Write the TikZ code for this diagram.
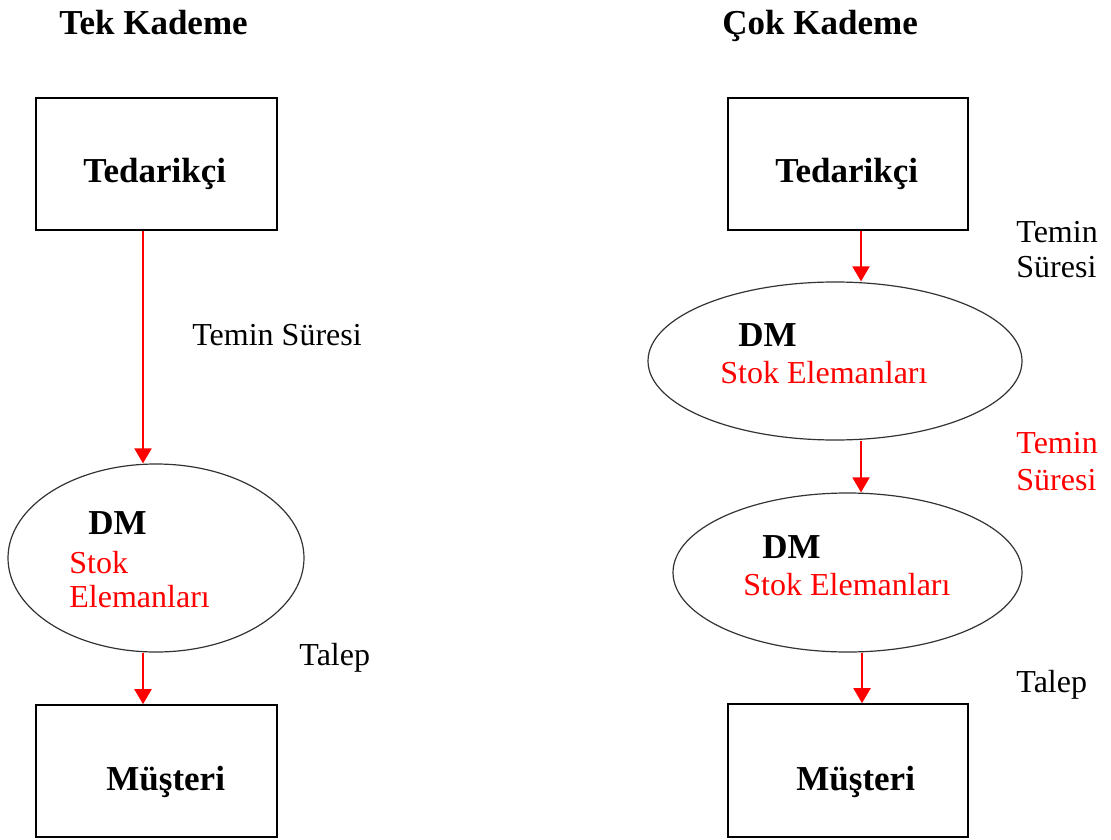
\documentclass[tikz,border=0pt]{standalone}
\usepackage{fontspec}
\setmainfont{Liberation Serif}
\usetikzlibrary{arrows.meta,shapes.geometric}
\begin{document}
\begin{tikzpicture}[x=0.5pt,y=-0.5pt,
  boxnode/.style={draw=black,line width=0.8pt,rectangle,inner sep=0pt},
  stocknode/.style={draw=black!80,line width=0.6pt,ellipse,inner sep=0pt},
  title/.style={anchor=base west,inner sep=0pt,font=\fontsize{17.5pt}{21pt}\selectfont\bfseries},
  bigname/.style={anchor=base west,inner sep=0pt,font=\fontsize{17.5pt}{21pt}\selectfont\bfseries},
  plain/.style={anchor=base west,inner sep=0pt,font=\fontsize{16pt}{19pt}\selectfont},
  redtext/.style={plain,text=red},
  flow/.style={draw=red,line width=1pt,-{Triangle[width=8.5pt,length=7.5pt]}}]
\useasboundingbox (0,0) rectangle (1111,839);

% ---- single echelon ----
\node[title] (t1) at (59,35) {Tek Kademe};
\node[boxnode,minimum width=241*0.5pt,minimum height=132*0.5pt] (sup1) at (156.5,164) {};
\node[bigname] (sup1t) at (83,183) {Tedarikçi};
\node[stocknode,minimum width=296*0.5pt,minimum height=188*0.5pt] (dm1) at (156,558) {};
\node[bigname] (dm1t) at (88,534) {DM};
\node[redtext] (dm1a) at (69,573) {Stok};
\node[redtext] (dm1b) at (69,607) {Elemanları};
\node[boxnode,minimum width=241*0.5pt,minimum height=132*0.5pt] (cus1) at (156.5,771) {};
\node[bigname] (cus1t) at (106,790) {Müşteri};
\node[plain] (lt1) at (192,345) {Temin Süresi};
\node[plain] (dem1) at (299,665) {Talep};
\draw[flow] (sup1.south -| 143,0) -- (dm1.north -| 143,0);
\draw[flow] (dm1.south -| 143,0) -- (cus1.north -| 143,0);

% ---- multi echelon ----
\node[title] (t2) at (722,35) {Çok Kademe};
\node[boxnode,minimum width=240*0.5pt,minimum height=132*0.5pt] (sup2) at (848,164) {};
\node[bigname] (sup2t) at (775,183) {Tedarikçi};
\node[stocknode,minimum width=374*0.5pt,minimum height=158*0.5pt] (dm2) at (835,361) {};
\node[bigname] (dm2t) at (738,346) {DM};
\node[redtext] (dm2a) at (720,383) {Stok Elemanları};
\node[stocknode,minimum width=349*0.5pt,minimum height=159*0.5pt] (dm3) at (847.5,572.5) {};
\node[bigname] (dm3t) at (762,558) {DM};
\node[redtext] (dm3a) at (743,595) {Stok Elemanları};
\node[boxnode,minimum width=240*0.5pt,minimum height=133*0.5pt] (cus2) at (848,770.5) {};
\node[bigname] (cus2t) at (796,790) {Müşteri};
\node[plain] (lt2a) at (1016,243) {Temin};
\node[plain] (lt2b) at (1016,278) {Süresi};
\node[redtext] (lt3a) at (1016,453) {Temin};
\node[redtext] (lt3b) at (1016,490) {Süresi};
\node[plain] (dem2) at (1016,692) {Talep};
\draw[flow] (sup2.south -| 861,0) -- (dm2.north -| 861,0);
\draw[flow] (dm2.south -| 861,0) -- (dm3.north -| 861,0);
\draw[flow] (dm3.south -| 862,0) -- (cus2.north -| 862,0);
\end{tikzpicture}
\end{document}
